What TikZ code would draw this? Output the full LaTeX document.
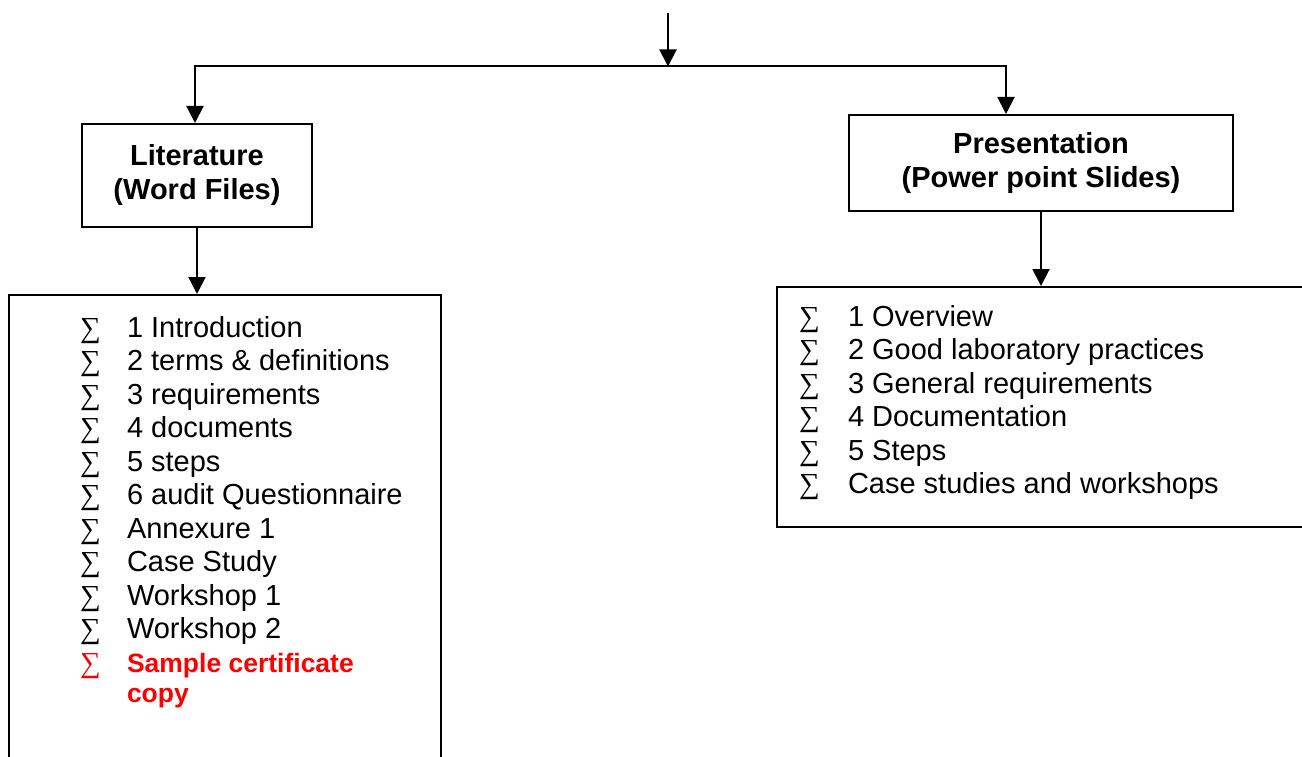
\documentclass[tikz,border=0pt]{standalone}
\usepackage{fontspec}
\setmainfont{Liberation Sans}
\newfontfamily\sigfont{Liberation Serif}
\usetikzlibrary{arrows.meta}
\begin{document}
\begin{tikzpicture}[x=1pt,y=-1pt,line width=2pt,
  arr/.style={-{Triangle[width=17pt,length=17pt]}},
  titlebox/.style={draw,rectangle,inner sep=0pt,align=center,
    font=\fontsize{29}{34}\selectfont\bfseries},
  listbox/.style={draw,rectangle,inner sep=0pt},
  itemtext/.style={anchor=base west,inner sep=0pt,font=\fontsize{29}{33}\selectfont},
  redtext/.style={anchor=base west,inner sep=0pt,text=red,font=\fontsize{26.5}{30}\selectfont\bfseries},
  sig/.style={anchor=base west,inner sep=0pt,font=\sigfont\fontsize{29}{33}\selectfont}]
\useasboundingbox (0,0) rectangle (1302,757);
% boxes
\node[titlebox,minimum width=230pt,minimum height=103pt] (lit) at (197,175.5) {Literature\\(Word Files)};
\node[titlebox,minimum width=384pt,minimum height=96pt] (pres) at (1041,163) {Presentation\\(Power point Slides)};
\node[listbox,minimum width=432pt,minimum height=480pt] (litlist) at (225,535) {};
\node[listbox,minimum width=545pt,minimum height=240pt] (preslist) at (1049.5,407) {};
% connectors
\coordinate (src) at (668,13);
\coordinate (j) at (668,66.5);
\coordinate (lj) at (195,66.5);
\coordinate (rj) at (1006,66.5);
\draw[arr] (src) -- (j);
\draw[arr] (rj) -- (lj) -- (lj |- lit.north);
\draw[arr] (lj) -- (rj) -- (rj |- pres.north);
\draw[arr] (lit.south) -- (lit.south |- litlist.north);
\draw[arr] (pres.south) -- (pres.south |- preslist.north);
% left list
\foreach \t [count=\i] in {1 Introduction,2 terms \& definitions,3 requirements,4 documents,5 steps,6 audit Questionnaire,Annexure 1,Case Study,Workshop 1,Workshop 2}{
  \node[sig] (ls\i) at (79,303.5+33.5*\i) {∑};
  \node[itemtext] (lt\i) at (126,303.5+33.5*\i) {\t};
}
\node[sig,text=red] (ls11) at (79,672) {∑};
\node[redtext] (lt11) at (126,672) {Sample certificate};
\node[redtext] (lt12) at (126,702) {copy};
% right list
\foreach \t [count=\i] in {1 Overview,2 Good laboratory practices,3 General requirements,4 Documentation,5 Steps,Case studies and workshops}{
  \node[sig] (rs\i) at (798,292.5+33.5*\i) {∑};
  \node[itemtext] (rt\i) at (847,292.5+33.5*\i) {\t};
}
\end{tikzpicture}
\end{document}
